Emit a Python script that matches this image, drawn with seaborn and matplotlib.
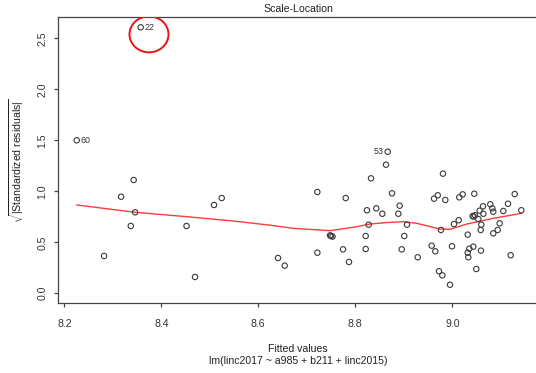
import matplotlib
matplotlib.use("Agg")
import matplotlib.pyplot as plt
from matplotlib.patches import Ellipse
import seaborn as sns
import pandas as pd

fitted = [8.2256, 8.3575, 8.343, 8.317, 8.346, 8.337, 8.282, 8.452, 8.5245, 8.5087,
          8.4695, 8.6406, 8.6544, 8.8668, 8.8633, 8.8324, 8.7217, 8.7802, 8.8757, 8.8915,
          8.8241, 8.8433, 8.8557, 8.8887, 8.8276, 8.9066, 8.748, 8.750, 8.753, 8.8214,
          8.901, 8.7217, 8.7747, 8.8214, 8.8957, 8.787, 8.9287, 8.9808, 8.9623, 8.970,
          8.9856, 9.0144, 9.0214, 9.0454, 9.1287, 9.1149, 9.0784, 9.0825, 9.0845, 9.1052,
          9.1423, 9.0633, 9.0565, 9.064, 9.0468, 9.0420, 9.0440, 9.0536, 9.0132, 9.0035,
          9.0598, 9.0977, 8.9767, 9.0586, 9.0936, 9.0845, 9.0318, 8.9575, 8.965, 8.9994,
          9.0433, 9.0351, 9.0318, 9.033, 9.0591, 9.1204, 9.0495, 8.9726, 8.9794, 8.9953]
sqrt_std_resid = [1.500, 2.608, 1.111, 0.947, 0.794, 0.660, 0.366, 0.660, 0.934, 0.866,
                  0.160, 0.346, 0.271, 1.388, 1.261, 1.127, 0.993, 0.934, 0.980, 0.859,
                  0.814, 0.833, 0.780, 0.780, 0.673, 0.673, 0.568, 0.562, 0.556, 0.562,
                  0.562, 0.398, 0.431, 0.434, 0.431, 0.307, 0.353, 1.173, 0.928, 0.961,
                  0.915, 0.941, 0.970, 0.976, 0.973, 0.878, 0.873, 0.833, 0.800, 0.807,
                  0.814, 0.853, 0.810, 0.780, 0.765, 0.757, 0.753, 0.728, 0.716, 0.679,
                  0.673, 0.686, 0.621, 0.621, 0.621, 0.588, 0.575, 0.467, 0.412, 0.461,
                  0.457, 0.437, 0.398, 0.353, 0.418, 0.373, 0.238, 0.216, 0.176, 0.084]

# labelled observations
label_names = ["22", "60", "53"]
label_x = [8.3575, 8.2256, 8.8668]
label_y = [2.608, 1.500, 1.388]
label_side = ["right", "right", "left"]

# smoother
smooth_x = [8.2256, 8.346, 8.45, 8.55, 8.624, 8.672, 8.748, 8.803, 8.830, 8.865,
            8.899, 8.9266, 8.9747, 8.995, 9.0297, 9.0845, 9.143]
smooth_y = [0.866, 0.794, 0.752, 0.708, 0.668, 0.637, 0.614, 0.653, 0.679, 0.694,
            0.702, 0.686, 0.630, 0.627, 0.679, 0.735, 0.784]

xticks = [8.2, 8.4, 8.6, 8.8, 9.0]
yticks = [0.0, 0.5, 1.0, 1.5, 2.0, 2.5]

sns.set_theme(style="white")
plt.rcParams["font.family"] = ["Liberation Sans", "DejaVu Sans"]
plt.rcParams["mathtext.fontset"] = "custom"
plt.rcParams["mathtext.rm"] = "Liberation Sans"
plt.rcParams["mathtext.it"] = "Liberation Sans:italic"

fig = plt.figure(figsize=(5.36, 3.73), dpi=100)
ax = fig.add_axes([0.1088, 0.1869, 1.0037 - 0.1088, 0.9536 - 0.1869])

df = pd.DataFrame({"fitted": fitted, "val": sqrt_std_resid})
sns.scatterplot(data=df, x="fitted", y="val", ax=ax, marker="o", s=15,
                facecolor="none", edgecolor="#3a3a3a", linewidth=0.8, zorder=3)
sdf = pd.DataFrame({"x": smooth_x, "y": smooth_y})
sns.lineplot(data=sdf, x="x", y="y", ax=ax, color="#ff3b3b", linewidth=1.0,
             sort=True, zorder=2)

for n, lx, ly, side in zip(label_names, label_x, label_y, label_side):
    off = 3 if side == "right" else -3
    ax.annotate(n, (lx, ly), xytext=(off, 0), textcoords="offset points",
                ha="left" if side == "right" else "right", va="center",
                fontsize=6.4, color="#333333")

ell = Ellipse((8.3746, 2.539), width=0.0804, height=0.353, fill=False,
              edgecolor="#ee1111", linewidth=1.4, zorder=4)
ax.add_patch(ell)

ax.set_xlim(8.1876, 9.1767)
ax.set_ylim(-0.098, 2.706)
ax.set_xticks(xticks)
ax.set_xticklabels([f"{t:.1f}" for t in xticks])
ax.set_yticks(yticks)
ax.set_yticklabels([f"{t:.1f}" for t in yticks], rotation=90, va="center")

for s in ax.spines.values():
    s.set_color("#444444")
    s.set_linewidth(0.9)
ax.spines["right"].set_visible(False)

ax.tick_params(axis="x", which="both", bottom=True, length=3, width=0.9,
               color="#444444", pad=8, labelsize=7.6, labelcolor="#333333")
ax.tick_params(axis="y", which="both", left=True, length=3, width=0.9,
               color="#444444", pad=5, labelsize=7.6, labelcolor="#333333")

ax.set_title("Scale-Location", fontsize=7.6, color="#222222", pad=4)
ax.set_xlabel("Fitted values\nlm(linc2017 ~ a985 + b211 + linc2015)",
              fontsize=7.6, color="#222222", labelpad=11, linespacing=1.25)
ax.set_ylabel(r"$\sqrt{|\mathrm{Standardized\ residuals}|}$", fontsize=7.6,
              color="#222222", labelpad=8)

fig.savefig("out.png", dpi=100)
